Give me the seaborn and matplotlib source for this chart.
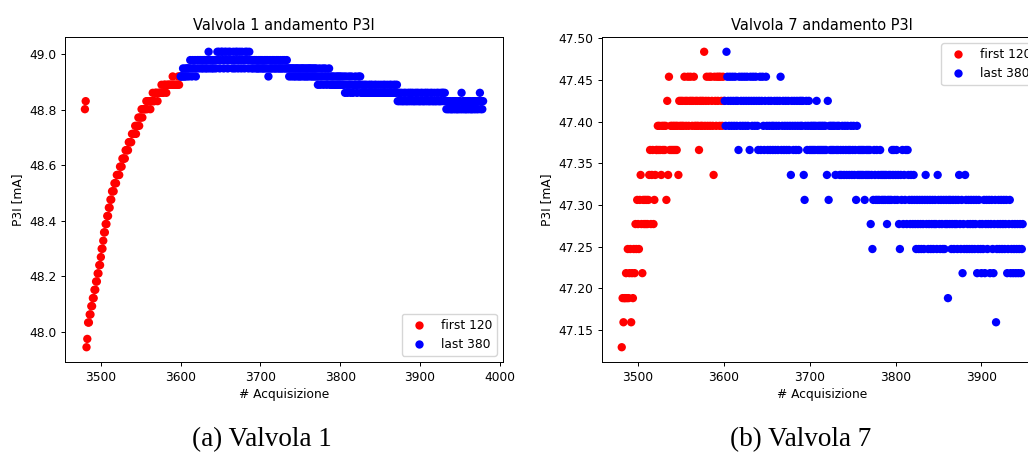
import numpy as np
import pandas as pd
import matplotlib
matplotlib.use("Agg")
import matplotlib.pyplot as plt
import seaborn as sns

# ---------------- data ----------------
# Valvola 1 (acquisition numbers are consecutive)
v1_first_start = 3480
v1_last_start = 3600
v1_first_y = [
    48.802, 48.831, 47.944, 47.974, 48.033, 48.033, 48.062, 48.062, 48.092, 48.092,
    48.121, 48.121, 48.151, 48.151, 48.181, 48.181, 48.210, 48.210, 48.240, 48.240,
    48.269, 48.299, 48.299, 48.328, 48.358, 48.358, 48.388, 48.388, 48.417, 48.417,
    48.447, 48.447, 48.476, 48.476, 48.506, 48.506, 48.506, 48.535, 48.535, 48.535,
    48.565, 48.565, 48.565, 48.565, 48.595, 48.595, 48.595, 48.624, 48.624, 48.624,
    48.624, 48.654, 48.654, 48.654, 48.654, 48.683, 48.683, 48.683, 48.683, 48.713,
    48.713, 48.713, 48.713, 48.742, 48.713, 48.742, 48.742, 48.772, 48.742, 48.772,
    48.772, 48.802, 48.772, 48.802, 48.802, 48.802, 48.802, 48.831, 48.802, 48.831,
    48.831, 48.831, 48.802, 48.831, 48.831, 48.861, 48.831, 48.831, 48.861, 48.861,
    48.861, 48.831, 48.861, 48.861, 48.861, 48.861, 48.890, 48.861, 48.861, 48.890,
    48.890, 48.890, 48.861, 48.890, 48.890, 48.890, 48.890, 48.890, 48.890, 48.890,
    48.920, 48.890, 48.890, 48.890, 48.890, 48.890, 48.890, 48.920, 48.890, 48.920,
]
v1_last_y = [
    48.920, 48.920, 48.920, 48.949, 48.920, 48.920, 48.949, 48.920, 48.949, 48.949,
    48.920, 48.949, 48.979, 48.949, 48.920, 48.979, 48.949, 48.949, 48.979, 48.920,
    48.949, 48.979, 48.979, 48.949, 48.979, 48.979, 48.949, 48.979, 48.949, 48.979,
    48.979, 48.949, 48.979, 48.949, 48.979, 49.009, 48.949, 48.979, 48.979, 48.949,
    48.979, 48.949, 48.979, 48.979, 48.949, 48.979, 49.009, 48.979, 49.009, 48.949,
    48.979, 49.009, 49.009, 48.979, 48.949, 49.009, 48.979, 49.009, 48.979, 48.949,
    49.009, 48.979, 49.009, 48.979, 48.979, 48.949, 49.009, 48.979, 48.949, 49.009,
    48.979, 49.009, 48.949, 48.979, 49.009, 48.979, 48.949, 49.009, 48.979, 48.979,
    48.949, 49.009, 48.979, 49.009, 48.979, 48.949, 49.009, 48.979, 48.979, 48.949,
    48.979, 48.949, 48.979, 48.979, 48.949, 48.979, 48.949, 48.949, 48.979, 48.949,
    48.979, 48.949, 48.979, 48.949, 48.949, 48.979, 48.949, 48.979, 48.949, 48.979,
    48.920, 48.949, 48.979, 48.949, 48.949, 48.979, 48.949, 48.979, 48.949, 48.949,
    48.979, 48.949, 48.979, 48.949, 48.949, 48.979, 48.949, 48.949, 48.979, 48.949,
    48.979, 48.949, 48.949, 48.979, 48.949, 48.949, 48.920, 48.949, 48.949, 48.920,
    48.949, 48.949, 48.920, 48.949, 48.920, 48.949, 48.949, 48.920, 48.949, 48.920,
    48.949, 48.920, 48.949, 48.949, 48.920, 48.949, 48.920, 48.949, 48.920, 48.949,
    48.920, 48.949, 48.949, 48.920, 48.949, 48.920, 48.949, 48.920, 48.949, 48.920,
    48.949, 48.920, 48.890, 48.920, 48.949, 48.890, 48.920, 48.920, 48.949, 48.890,
    48.920, 48.949, 48.920, 48.890, 48.920, 48.920, 48.949, 48.890, 48.920, 48.890,
    48.920, 48.890, 48.920, 48.890, 48.890, 48.920, 48.890, 48.920, 48.890, 48.920,
    48.890, 48.920, 48.890, 48.890, 48.920, 48.890, 48.861, 48.920, 48.890, 48.861,
    48.890, 48.920, 48.890, 48.861, 48.920, 48.890, 48.861, 48.890, 48.890, 48.920,
    48.890, 48.861, 48.890, 48.920, 48.890, 48.920, 48.861, 48.890, 48.861, 48.890,
    48.861, 48.890, 48.861, 48.890, 48.861, 48.861, 48.890, 48.861, 48.890, 48.861,
    48.890, 48.861, 48.861, 48.890, 48.861, 48.890, 48.861, 48.861, 48.890, 48.861,
    48.861, 48.890, 48.861, 48.861, 48.890, 48.861, 48.890, 48.861, 48.861, 48.890,
    48.861, 48.861, 48.890, 48.861, 48.890, 48.861, 48.861, 48.890, 48.861, 48.890,
    48.861, 48.890, 48.831, 48.861, 48.831, 48.861, 48.831, 48.861, 48.831, 48.831,
    48.861, 48.831, 48.861, 48.831, 48.831, 48.861, 48.831, 48.861, 48.831, 48.861,
    48.831, 48.861, 48.831, 48.831, 48.861, 48.831, 48.861, 48.831, 48.861, 48.831,
    48.831, 48.861, 48.831, 48.861, 48.831, 48.831, 48.861, 48.831, 48.861, 48.831,
    48.861, 48.831, 48.831, 48.861, 48.831, 48.861, 48.831, 48.831, 48.861, 48.831,
    48.831, 48.861, 48.831, 48.861, 48.831, 48.831, 48.861, 48.831, 48.861, 48.861,
    48.831, 48.861, 48.831, 48.802, 48.831, 48.802, 48.831, 48.802, 48.831, 48.802,
    48.802, 48.831, 48.802, 48.831, 48.802, 48.831, 48.802, 48.802, 48.831, 48.802,
    48.831, 48.802, 48.861, 48.802, 48.831, 48.802, 48.831, 48.802, 48.802, 48.831,
    48.802, 48.831, 48.802, 48.831, 48.802, 48.802, 48.831, 48.802, 48.831, 48.802,
    48.831, 48.802, 48.831, 48.802, 48.831, 48.861, 48.802, 48.831, 48.802, 48.831,
]

# Valvola 7
v7_first_start = 3481
v7_last_start = 3601
v7_first_y = [
    47.129, 47.188, 47.159, 47.188, 47.188, 47.218, 47.188, 47.247, 47.188, 47.218,
    47.247, 47.159, 47.218, 47.188, 47.247, 47.218, 47.277, 47.247, 47.306, 47.277,
    47.247, 47.306, 47.336, 47.277, 47.218, 47.306, 47.277, 47.306, 47.277, 47.306,
    47.277, 47.306, 47.336, 47.366, 47.277, 47.336, 47.366, 47.277, 47.306, 47.336,
    47.366, 47.366, 47.395, 47.366, 47.395, 47.366, 47.336, 47.395, 47.366, 47.395,
    47.366, 47.395, 47.306, 47.425, 47.336, 47.454, 47.366, 47.395, 47.366, 47.395,
    47.366, 47.395, 47.366, 47.395, 47.366, 47.395, 47.336, 47.425, 47.395, 47.425,
    47.395, 47.425, 47.395, 47.454, 47.425, 47.395, 47.425, 47.454, 47.395, 47.425,
    47.454, 47.425, 47.395, 47.425, 47.454, 47.395, 47.425, 47.395, 47.425, 47.395,
    47.366, 47.425, 47.395, 47.425, 47.395, 47.425, 47.484, 47.395, 47.425, 47.454,
    47.395, 47.425, 47.454, 47.395, 47.454, 47.425, 47.395, 47.336, 47.454, 47.425,
    47.395, 47.454, 47.425, 47.454, 47.395, 47.454, 47.425, 47.395, 47.454, 47.425,
]
v7_last_y = [
    47.425, 47.395, 47.484, 47.454, 47.425, 47.395, 47.454, 47.425, 47.395, 47.454,
    47.425, 47.395, 47.454, 47.425, 47.395, 47.425, 47.366, 47.454, 47.395, 47.425,
    47.454, 47.395, 47.425, 47.454, 47.395, 47.425, 47.454, 47.395, 47.425, 47.366,
    47.454, 47.425, 47.395, 47.454, 47.425, 47.395, 47.454, 47.425, 47.395, 47.366,
    47.425, 47.454, 47.366, 47.425, 47.454, 47.395, 47.366, 47.425, 47.454, 47.395,
    47.366, 47.425, 47.395, 47.366, 47.425, 47.395, 47.366, 47.395, 47.425, 47.366,
    47.395, 47.425, 47.366, 47.395, 47.425, 47.454, 47.366, 47.395, 47.425, 47.366,
    47.395, 47.425, 47.366, 47.395, 47.425, 47.366, 47.395, 47.336, 47.425, 47.395,
    47.366, 47.425, 47.395, 47.366, 47.425, 47.395, 47.366, 47.425, 47.395, 47.425,
    47.395, 47.425, 47.336, 47.306, 47.395, 47.425, 47.366, 47.395, 47.425, 47.366,
    47.395, 47.366, 47.395, 47.366, 47.395, 47.366, 47.395, 47.425, 47.366, 47.395,
    47.366, 47.395, 47.366, 47.395, 47.366, 47.395, 47.366, 47.395, 47.366, 47.336,
    47.425, 47.306, 47.395, 47.366, 47.395, 47.366, 47.395, 47.366, 47.395, 47.336,
    47.366, 47.395, 47.366, 47.395, 47.336, 47.366, 47.336, 47.395, 47.366, 47.336,
    47.395, 47.366, 47.336, 47.395, 47.366, 47.336, 47.366, 47.395, 47.336, 47.366,
    47.395, 47.336, 47.366, 47.306, 47.395, 47.336, 47.366, 47.336, 47.366, 47.336,
    47.366, 47.336, 47.366, 47.306, 47.336, 47.366, 47.336, 47.366, 47.336, 47.366,
    47.277, 47.336, 47.247, 47.306, 47.366, 47.336, 47.306, 47.366, 47.306, 47.336,
    47.306, 47.366, 47.336, 47.306, 47.336, 47.306, 47.336, 47.306, 47.336, 47.277,
    47.306, 47.336, 47.306, 47.336, 47.306, 47.366, 47.336, 47.366, 47.306, 47.336,
    47.366, 47.306, 47.336, 47.277, 47.247, 47.336, 47.306, 47.366, 47.277, 47.336,
    47.306, 47.366, 47.277, 47.366, 47.336, 47.306, 47.277, 47.336, 47.306, 47.277,
    47.336, 47.306, 47.277, 47.247, 47.306, 47.277, 47.247, 47.306, 47.277, 47.247,
    47.306, 47.277, 47.247, 47.306, 47.336, 47.277, 47.306, 47.247, 47.277, 47.306,
    47.247, 47.277, 47.306, 47.247, 47.277, 47.306, 47.277, 47.247, 47.336, 47.306,
    47.277, 47.247, 47.306, 47.277, 47.247, 47.306, 47.247, 47.277, 47.306, 47.277,
    47.188, 47.306, 47.277, 47.306, 47.247, 47.277, 47.306, 47.247, 47.277, 47.306,
    47.277, 47.247, 47.306, 47.336, 47.277, 47.247, 47.306, 47.218, 47.277, 47.247,
    47.336, 47.306, 47.247, 47.277, 47.306, 47.247, 47.277, 47.306, 47.247, 47.277,
    47.306, 47.247, 47.277, 47.306, 47.218, 47.247, 47.306, 47.277, 47.247, 47.218,
    47.277, 47.247, 47.306, 47.218, 47.277, 47.306, 47.247, 47.277, 47.306, 47.218,
    47.277, 47.306, 47.247, 47.218, 47.277, 47.306, 47.159, 47.247, 47.277, 47.306,
    47.247, 47.277, 47.306, 47.247, 47.277, 47.306, 47.247, 47.277, 47.306, 47.218,
    47.247, 47.277, 47.306, 47.218, 47.247, 47.277, 47.218, 47.247, 47.277, 47.218,
    47.247, 47.277, 47.218, 47.247, 47.277, 47.218, 47.247, 47.277,
]

series_labels = ["first 120", "last 380"]
series_colors = ["red", "blue"]
titles = ["Valvola 1 andamento P3I", "Valvola 7 andamento P3I"]
captions = ["(a) Valvola 1", "(b) Valvola 7"]
x_label = "# Acquisizione"
y_label = "P3I [mA]"


def make_df(first_start, first_y, last_start, last_y):
    f = pd.DataFrame({"x": np.arange(first_start, first_start + len(first_y)),
                      "y": first_y, "serie": series_labels[0]})
    l = pd.DataFrame({"x": np.arange(last_start, last_start + len(last_y)),
                      "y": last_y, "serie": series_labels[1]})
    return pd.concat([f, l], ignore_index=True)


df1 = make_df(v1_first_start, v1_first_y, v1_last_start, v1_last_y)
df7 = make_df(v7_first_start, v7_first_y, v7_last_start, v7_last_y)

# ---------------- style ----------------
sc = 0.88
plt.rcParams.update({
    "font.family": ["DejaVu Sans"],
    "font.size": 10 * sc,
    "axes.titlesize": 12 * sc,
    "axes.labelsize": 10 * sc,
    "xtick.labelsize": 10 * sc,
    "ytick.labelsize": 10 * sc,
    "legend.fontsize": 10 * sc,
    "axes.linewidth": 0.8 * sc,
    "xtick.major.size": 3.5 * sc,
    "ytick.major.size": 3.5 * sc,
    "xtick.major.width": 0.8 * sc,
    "ytick.major.width": 0.8 * sc,
    "xtick.major.pad": 3.5 * sc,
    "ytick.major.pad": 3.5 * sc,
    "axes.titlepad": 6 * sc,
    "axes.labelpad": 4 * sc,
})

W, H = 1028, 455
fig = plt.figure(figsize=(W / 100, H / 100), dpi=100)
ax1 = fig.add_axes([65 / W, (H - 362) / H, 438 / W, 325 / H])
ax7 = fig.add_axes([601.7 / W, (H - 362) / H, 441 / W, 325 / H])

palette = dict(zip(series_labels, series_colors))
for ax, df, title, loc in [(ax1, df1, titles[0], "lower right"),
                           (ax7, df7, titles[1], "upper right")]:
    sns.scatterplot(data=df, x="x", y="y", hue="serie", palette=palette,
                    s=36, linewidth=0, edgecolor="none", ax=ax)
    ax.set_title(title)
    ax.set_xlabel(x_label)
    ax.set_ylabel(y_label)
    ax.legend(loc=loc, title=None, markerscale=1.0)

ax1.set_xticks([3500, 3600, 3700, 3800, 3900, 4000])
ax1.set_yticks([48.0, 48.2, 48.4, 48.6, 48.8, 49.0])
ax1.set_yticklabels(["48.0", "48.2", "48.4", "48.6", "48.8", "49.0"])
ax7.set_xticks([3500, 3600, 3700, 3800, 3900])
ax7.set_yticks([47.15, 47.20, 47.25, 47.30, 47.35, 47.40, 47.45, 47.50])
ax7.set_yticklabels(["47.15", "47.20", "47.25", "47.30", "47.35", "47.40", "47.45", "47.50"])

fig.text(262 / W, 1 - 440 / H, captions[0], ha="center", va="center",
         family=["Liberation Serif"], fontsize=19.5)
fig.text(801 / W, 1 - 440 / H, captions[1], ha="center", va="center",
         family=["Liberation Serif"], fontsize=19.5)

fig.savefig("out.png", dpi=100)
